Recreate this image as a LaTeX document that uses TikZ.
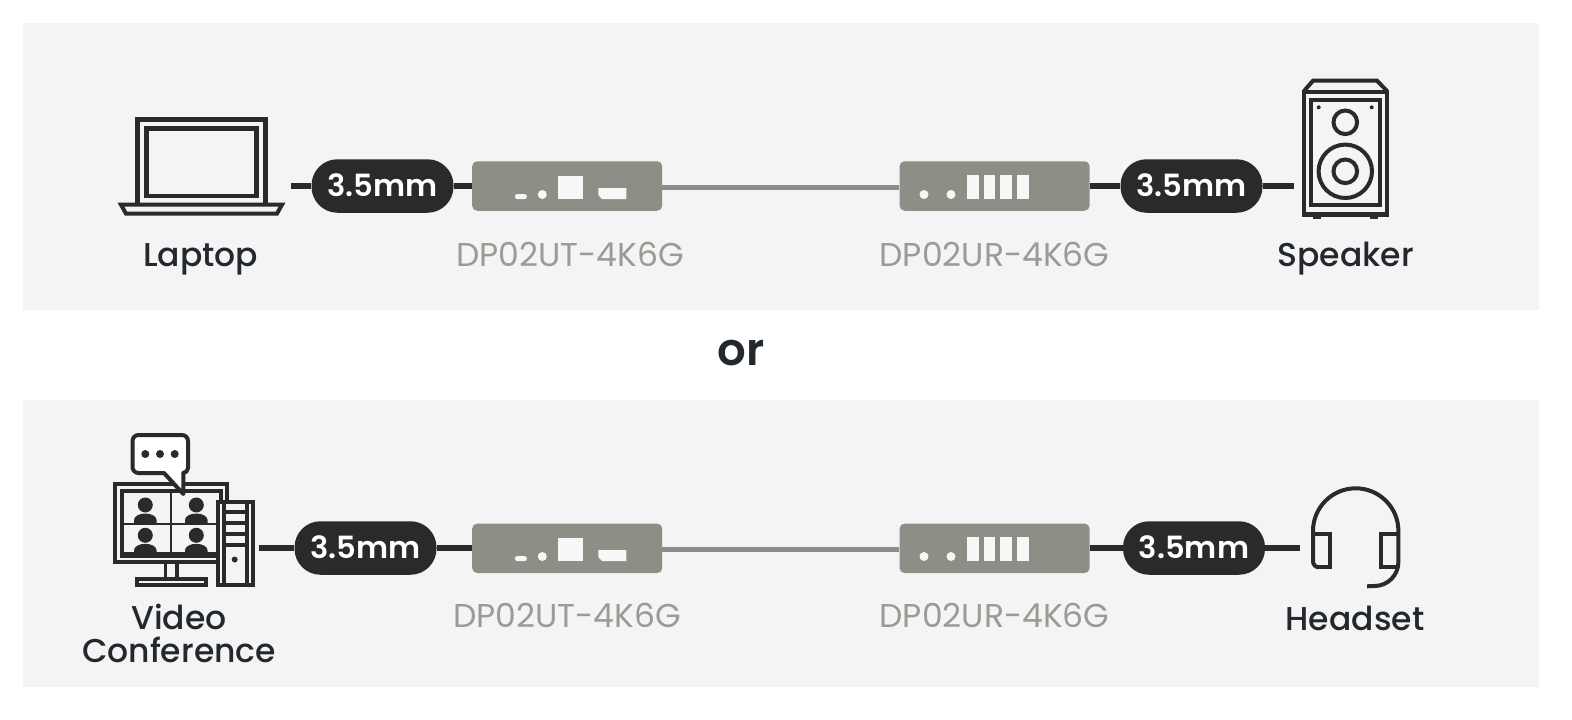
\documentclass[tikz,border=0pt]{standalone}
\usepackage{fontspec}
\setmainfont{Poppins}[UprightFont=* Medium,BoldFont=* SemiBold]
\newfontfamily\popreg{Poppins}
\definecolor{panel}{HTML}{F4F4F4}
\definecolor{ink}{HTML}{2B292A}
\definecolor{device}{HTML}{8D8F87}
\definecolor{port}{HTML}{F7F7F5}
\definecolor{lbl}{HTML}{22282E}
\definecolor{lblgrey}{HTML}{9A9B95}
\newcommand{\pilltext}{\raisebox{1pt}{3.5mm}}
\tikzset{
  pill/.style={rectangle,fill=ink,text=white,rounded corners=26pt,minimum width=142pt,minimum height=53.5pt,inner sep=0pt,font=\fontsize{30.6}{30}\selectfont\bfseries},
  devicebox/.style={rectangle,fill=device,rounded corners=5pt,minimum width=190pt,minimum height=49.5pt,inner sep=0pt},
  cableblack/.style={draw=ink,line width=5.8pt},
  cablegrey/.style={draw=device,line width=5.4pt},
  icon/.style={draw=ink,line width=4pt,miter limit=10},
  devicelabel/.style={text=lbl,anchor=base,inner sep=0pt,font=\fontsize{33}{33}\selectfont},
  modellabel/.style={text=lblgrey,anchor=base,inner sep=0pt,font=\fontsize{33}{33}\selectfont\popreg},
}
\begin{document}
\begin{tikzpicture}[x=1pt,y=-1pt]
\useasboundingbox (0,0) rectangle (1572,720);
\fill[white] (0,0) rectangle (1572,720);
\fill[panel] (23,23) rectangle (1539,309.6);
\fill[panel] (23,400.4) rectangle (1539,687);

% ---------- top row
\node[pill] (p1) at (382.5,186) {\pilltext};
\node[pill] (p2) at (1191.5,186) {\pilltext};
\node[devicebox] (d1) at (567.2,186) {};
\node[devicebox] (d2) at (994.6,186) {};
\coordinate (laptopend) at (291,186);
\coordinate (speakerend) at (1294,186);
\draw[cableblack] (laptopend) -- (p1);
\draw[cableblack] (p1) -- (d1);
\draw[cablegrey] ([yshift=-1.4pt]d1.east) -- ([yshift=-1.4pt]d2.west);
\draw[cableblack] (d2) -- (p2);
\draw[cableblack] (p2) -- (speakerend);

% transmitter ports
\fill[port,rounded corners=2pt] (515,194.2) rectangle (526.8,199);
\fill[port] (542.3,194.5) circle (4.5);
\fill[port] (558.3,176.3) rectangle (583,198.7);
\fill[port] (598.3,188) -- (626.3,188) -- (626.3,199) -- (602,199) -- (598.3,195) -- cycle;
% receiver ports
\fill[port] (924,194.5) circle (4.5);
\fill[port] (951,194.5) circle (4.5);
\fill[port] (967.3,175.3) rectangle (978.7,199);
\fill[port] (983.7,175.3) rectangle (995.3,199);
\fill[port] (1000.3,175.3) rectangle (1012,199);
\fill[port] (1017,175.3) rectangle (1028.7,199);

% laptop
\draw[icon,line width=4.8pt] (137.2,203) -- (137.2,119.4) -- (265.8,119.4) -- (265.8,203);
\draw[icon,line width=4.8pt] (146.2,128.4) rectangle (256.8,196);
\draw[icon] (121,204.7) -- (282,204.7) -- (277,213.6) -- (126,213.6) -- cycle;

% speaker
\draw[icon,line width=4.2pt] (1303.8,91.7) rectangle (1387,214.5);
\draw[icon] (1311,99.5) rectangle (1379.8,205.3);
\draw[icon] (1304,91) -- (1313,80.7) -- (1377,80.7) -- (1387,91);
\fill[ink] (1312.7,215) rectangle (1320.7,219.3);
\fill[ink] (1370,215) rectangle (1377.7,219.3);
\fill[ink] (1318.7,107.3) circle (2);
\fill[ink] (1371.7,107.3) circle (2);
\draw[icon] (1345.3,122.3) circle (11.8);
\draw[icon] (1345.3,171.3) circle (26.7);
\draw[icon] (1345.3,171.3) circle (11.8);

\node[devicelabel] (lLaptop) at (200.8,266.2) {Laptop};
\node[devicelabel] (lSpeaker) at (1345.5,266.2) {Speaker};
\node[modellabel] (m1) at (570,266.2) {DP02UT-4K6G};
\node[modellabel] (m2) at (994.5,266.2) {DP02UR-4K6G};

\node[text=lbl,anchor=base,inner sep=0pt,font=\fontsize{45}{45}\selectfont\bfseries] (or) at (741,365) {or};

% ---------- bottom row
\node[pill] (p3) at (365.5,548) {\pilltext};
\node[pill] (p4) at (1194,548) {\pilltext};
\node[devicebox] (d3) at (567.2,548.3) {};
\node[devicebox] (d4) at (994.6,548.3) {};
\coordinate (videoend) at (259,548);
\coordinate (headsetend) at (1299.5,548);
\draw[cableblack] (videoend) -- (p3);
\draw[cableblack] (p3) -- (d3.west |- p3);
\draw[cablegrey] ([yshift=-1.4pt]d3.east) -- ([yshift=-1.4pt]d4.west);
\draw[cableblack] (d4.east |- p4) -- (p4);
\draw[cableblack] (p4) -- (headsetend);

\begin{scope}[yshift=-362pt]
\fill[port,rounded corners=2pt] (515,194.2) rectangle (526.8,199);
\fill[port] (542.3,194.5) circle (4.5);
\fill[port] (558.3,176.3) rectangle (583,198.7);
\fill[port] (598.3,188) -- (626.3,188) -- (626.3,199) -- (602,199) -- (598.3,195) -- cycle;
\fill[port] (924,194.5) circle (4.5);
\fill[port] (951,194.5) circle (4.5);
\fill[port] (967.3,175.3) rectangle (978.7,199);
\fill[port] (983.7,175.3) rectangle (995.3,199);
\fill[port] (1000.3,175.3) rectangle (1012,199);
\fill[port] (1017,175.3) rectangle (1028.7,199);
\end{scope}

% video conference icon: monitor
\draw[icon,line width=4.2pt] (115,483.8) rectangle (226.6,562.3);
\draw[icon,line width=4.2pt] (121.7,491) rectangle (221,555.5);
\draw[ink,line width=5.4pt] (121.7,555) -- (221,555);
\draw[ink,line width=2pt] (170.7,491) -- (170.7,555.5);
\draw[ink,line width=2pt] (121,524) -- (221,524);
% people
\foreach \px/\py in {145.3/505,196.3/505,145.3/535.3,196.3/535.3}{
  \fill[ink] (\px,\py) circle (7.5);
  \fill[ink] (\px-11.3,\py+18.7) -- (\px-11.3,\py+15) arc[start angle=180,end angle=360,x radius=11.3,y radius=6.5] -- (\px+11.3,\py+18.7) -- cycle;
}
% stand
\draw[icon,line width=3.8pt] (165.5,564) -- (165.5,578);
\draw[icon,line width=3.8pt] (177,564) -- (177,578);
\draw[icon] (136.8,578.9) rectangle (206,584.8);
% tower
\fill[panel] (217,501) rectangle (253,585);
\draw[icon] (218,502) rectangle (252.8,584.8);
\draw[icon] (224,502) -- (224,584.8);
\draw[icon] (246.7,502) -- (246.7,584.8);
\draw[icon] (224,512) -- (246.7,512);
\draw[icon] (224,523.2) -- (246.7,523.2);
\draw[icon] (224,534) -- (246.7,534);
\draw[icon] (224,545) -- (246.7,545);
\fill[ink] (234.7,559.5) circle (3);
% bubble
\draw[icon,fill=white,line join=round]
  (164,473) -- (138.5,473) arc[start angle=90,end angle=180,radius=6] -- (132.5,441) arc[start angle=180,end angle=270,radius=6] -- (182,435) arc[start angle=270,end angle=360,radius=6] -- (188,468) arc[start angle=0,end angle=90,radius=5] -- (183.3,473) -- (183.3,494) -- cycle;
\fill[ink] (145.3,454) circle (4);
\fill[ink] (160,454) circle (4);
\fill[ink] (174.7,454) circle (4);

% headset
\draw[icon] (1319,567.3) arc[start angle=90,end angle=180,radius=6] -- (1313,531) arc[start angle=180,end angle=360,radius=42.7] -- (1398.4,562) arc[start angle=0,end angle=90,radius=24] -- (1367,586.3);
\draw[icon] (1313,534) -- (1330,534) -- (1330,567.3) -- (1319,567.3);
\draw[icon] (1398,534) -- (1381,534) -- (1381,567.3) -- (1397,567.3);

\node[devicelabel] (lVideo) at (179,629.2) {Video};
\node[devicelabel] (lConf) at (179,662.2) {Conference};
\node[devicelabel] (lHeadset) at (1355,630) {Headset};
\node[modellabel] (m3) at (567,627.2) {DP02UT-4K6G};
\node[modellabel] (m4) at (994.5,627.2) {DP02UR-4K6G};
\end{tikzpicture}
\end{document}
